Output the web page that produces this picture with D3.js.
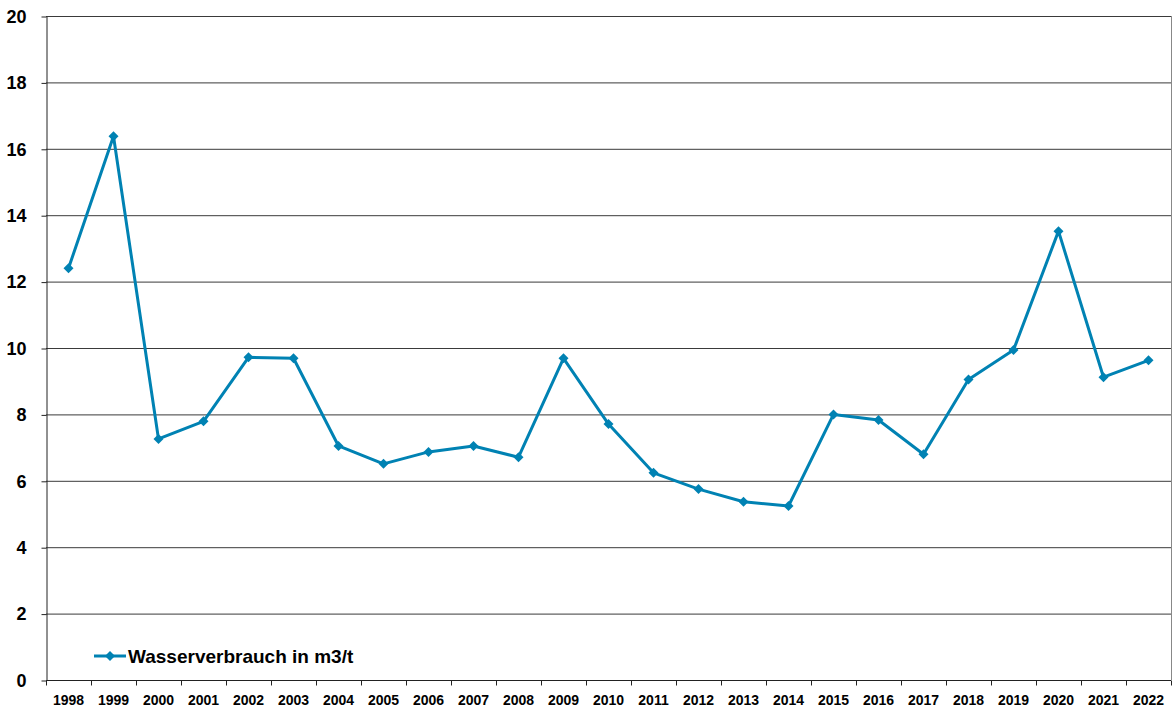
<!DOCTYPE html>
<html>
<head>
<meta charset="utf-8">
<script src="https://cdn.jsdelivr.net/npm/d3@7"></script>
<style>
  html, body { margin: 0; padding: 0; background: #fff; }
  svg { display: block; font-family: "Liberation Sans", Arial, sans-serif; }
</style>
</head>
<body>
<svg id="chart" width="1174" height="713"></svg>
<script>
// Water consumption per tonne, 1998–2022
const years = ["1998","1999","2000","2001","2002","2003","2004","2005","2006","2007","2008","2009","2010",
               "2011","2012","2013","2014","2015","2016","2017","2018","2019","2020","2021","2022"];
const values = [12.4, 16.38, 7.26, 7.79, 9.72, 9.69, 7.05, 6.51, 6.87, 7.05, 6.71, 9.69, 7.71,
                6.24, 5.75, 5.37, 5.24, 8.0, 7.83, 6.8, 9.05, 9.94, 13.52, 9.12, 9.63];
const yTicks = [0, 2, 4, 6, 8, 10, 12, 14, 16, 18, 20];
const seriesName = "Wasserverbrauch in m3/t";

(function () {
  const svg = d3.select("#chart");
  const plotL = 46, plotR = 1171, plotT = 16, plotB = 680;
  const color = "#0082B3";

  const x = d3.scaleBand().domain(years).range([plotL, plotR]).paddingInner(0).paddingOuter(0);
  const y = d3.scaleLinear().domain([0, 20]).range([plotB, plotT]);

  // horizontal gridlines
  svg.append("g")
    .selectAll("line")
    .data(yTicks.filter(t => t > 0))
    .join("line")
    .attr("x1", plotL).attr("x2", plotR)
    .attr("y1", d => y(d) + 0.5).attr("y2", d => y(d) + 0.5)
    .attr("stroke", "#3a3a3a").attr("stroke-width", 1);

  // right border
  svg.append("line")
    .attr("x1", plotR + 0.5).attr("x2", plotR + 0.5)
    .attr("y1", plotT).attr("y2", plotB)
    .attr("stroke", "#888").attr("stroke-width", 1);

  // y axis
  const yAxis = svg.append("g")
    .attr("transform", `translate(${plotL + 0.5},0.5)`)
    .call(d3.axisLeft(y).tickValues(yTicks).tickSize(5).tickPadding(15).tickSizeOuter(0));
  yAxis.select(".domain").attr("stroke", "#222");
  yAxis.selectAll(".tick line").attr("stroke", "#222");
  yAxis.selectAll("text")
    .attr("fill", "#000").attr("font-size", "18px").attr("font-weight", "bold")
    .attr("font-family", "'Liberation Sans', Arial, sans-serif");

  // x axis with tick marks at category boundaries
  const xAxis = svg.append("g").attr("transform", `translate(0,${plotB + 0.5})`);
  xAxis.append("line")
    .attr("x1", plotL).attr("x2", plotR)
    .attr("stroke", "#222");
  xAxis.selectAll("line.tk")
    .data(years.concat(["_end"]))
    .join("line")
    .attr("class", "tk")
    .attr("x1", (d, i) => (i < years.length ? x(d) : plotR) + 0.5)
    .attr("x2", (d, i) => (i < years.length ? x(d) : plotR) + 0.5)
    .attr("y1", 0).attr("y2", 5)
    .attr("stroke", "#222");
  xAxis.selectAll("text")
    .data(years)
    .join("text")
    .attr("x", d => x(d) + x.bandwidth() / 2)
    .attr("y", 24)
    .attr("text-anchor", "middle")
    .attr("font-size", "14px").attr("font-weight", "bold")
    .attr("fill", "#000")
    .text(d => d);

  // series line
  const line = d3.line()
    .x((d, i) => x(years[i]) + x.bandwidth() / 2)
    .y(d => y(d));
  svg.append("path")
    .datum(values)
    .attr("d", line)
    .attr("fill", "none")
    .attr("stroke", color)
    .attr("stroke-width", 3)
    .attr("stroke-linejoin", "round");

  // diamond markers
  const diamond = d3.symbol().type(d3.symbolSquare).size(50);
  svg.append("g")
    .selectAll("path")
    .data(values)
    .join("path")
    .attr("d", diamond)
    .attr("transform", (d, i) => `translate(${x(years[i]) + x.bandwidth() / 2},${y(d)}) rotate(45)`)
    .attr("fill", color);

  // legend
  const lg = svg.append("g").attr("transform", "translate(94,656)");
  lg.append("line").attr("x1", 0).attr("x2", 32).attr("y1", 0).attr("y2", 0)
    .attr("stroke", color).attr("stroke-width", 3);
  lg.append("path").attr("d", diamond).attr("transform", "translate(16,0) rotate(45)").attr("fill", color);
  lg.append("text").attr("x", 34).attr("y", 7)
    .attr("font-size", "19px").attr("font-weight", "bold").attr("fill", "#000")
    .text(seriesName);
})();
</script>
</body>
</html>
